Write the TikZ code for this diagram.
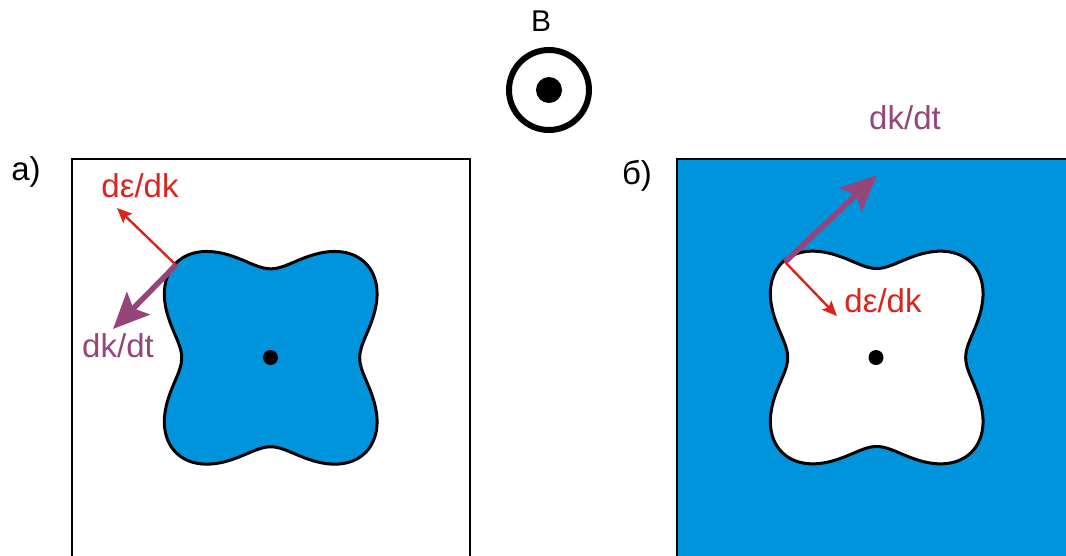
\documentclass[tikz,border=0pt]{standalone}
\usepackage{fontspec}
\setmainfont{Liberation Sans}
\usetikzlibrary{arrows.meta}
\definecolor{fsblue}{RGB}{0,148,221}
\definecolor{vred}{RGB}{218,37,29}
\definecolor{vpurple}{RGB}{150,69,122}
\tikzset{
  lbl/.style={inner sep=0pt, font=\fontsize{33}{35}\selectfont},
  redarrow/.style={vred, line width=2.4pt, -{Stealth[length=15pt,width=13pt,inset=3pt]}},
  purarrow/.style={vpurple, line width=5.5pt, -{Stealth[length=36pt,width=32pt,inset=7pt]}},
  framebox/.style={black, line width=2.2pt},
  blob/.style={black, line width=3pt},
}
\begin{document}
\begin{tikzpicture}[x=1pt,y=-1pt]
\useasboundingbox (0,0) rectangle (1066,555);
\clip (0,0) rectangle (1066,555);
% B field symbol
\node[lbl, font=\fontsize{30}{32}\selectfont] (B) at (541,21) {B};
\draw[line width=6pt] (549,90) circle (40);
\fill (549,90) circle (13);
% panel a
\node[lbl] (la) at (26,172) {а)};
\draw[framebox] (71.7,580) -- (71.7,159) -- (470,159) -- (470,580);
\draw[blob, fill=fsblue] plot[domain=0:360, samples=240, smooth cycle, variable=\t]
  ({270.7+(111.5-22.5*cos(4*\t))*cos(\t)}, {357.8+(111.5-22.5*cos(4*\t))*sin(\t)});
\fill (270.5,357.5) circle (7.5);
\coordinate (a0) at (176,265);
\coordinate (ar) at (117,208);
\coordinate (ap) at (113,329);
\draw[redarrow] (a0) -- (ar);
\draw[purarrow] (a0) -- (ap);
\node[lbl, vred] (ade) at (140,186) {dε/dk};
\node[lbl, vpurple] (adk) at (118,346) {dk/dt};
% panel b
\node[lbl] (lb) at (637,176) {б)};
\fill[fsblue] (677,159) rectangle (1080,580);
\draw[framebox] (677,580) -- (677,159) -- (1080,159);
\draw[blob, fill=white] plot[domain=0:360, samples=240, smooth cycle, variable=\t]
  ({876.7+(111.5-22.5*cos(4*\t))*cos(\t)}, {357.5+(111.5-22.5*cos(4*\t))*sin(\t)});
\fill (876,357.5) circle (7.5);
\coordinate (b0) at (785,262);
\coordinate (bp) at (877,175);
\coordinate (br) at (837,316);
\draw[purarrow] (b0) -- (bp);
\draw[redarrow] (b0) -- (br);
\node[lbl, vpurple] (bdk) at (905,118) {dk/dt};
\node[lbl, vred] (bde) at (883,301) {dε/dk};
\end{tikzpicture}
\end{document}
